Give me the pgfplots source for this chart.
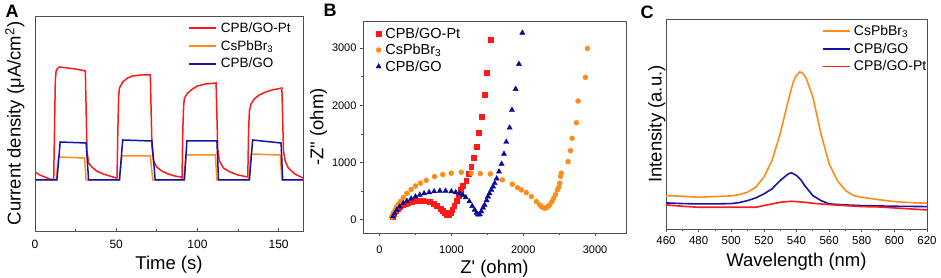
\documentclass[border=0pt]{standalone}
\usepackage{fontspec}
\setmainfont{Liberation Sans}
\usepackage{pgfplots}
\pgfplotsset{compat=1.18}
\definecolor{cred}{HTML}{FF1A1A}
\definecolor{corange}{HTML}{FF8C1A}
\definecolor{cblue}{HTML}{1414A8}
\definecolor{cnavy}{HTML}{0A0A96}
\definecolor{axgray}{HTML}{505050}
\pgfplotsset{
  myaxis/.style={
    scale only axis,
    axis line style={axgray, line width=0.9pt},
    every tick/.style={axgray, line width=0.7pt},
    /pgf/number format/assume math mode=true,
    tick label style={font=\fontsize{12}{14}\selectfont},
    label style={font=\fontsize{18.5}{21}\selectfont},
    legend cell align=left,
  },
  linelegend/.style={legend image code/.code={\draw[##1, line width=1.6pt] (0pt,0pt) -- (27pt,0pt);}},
  marklegend/.style={legend image code/.code={\draw[mark repeat=2, mark phase=2, ##1] plot coordinates {(0pt,0pt)(6pt,0pt)(18pt,0pt)};}},
}
\begin{document}
\begin{tikzpicture}
\path[use as bounding box] (0pt,0pt) rectangle (941pt,278pt);
% ---------------- A
\begin{axis}[myaxis, linelegend,
  at={(35pt,47pt)}, anchor=south west, width=268pt, height=215pt,
  xmin=0, xmax=165, ymin=0, ymax=215,
  xtick={0,50,100,150}, minor xtick={25,75,125},
  ytick=\empty, tick pos=left, tick align=inside,
  major tick length=3pt, minor tick length=2pt,
  xticklabel style={yshift=-6pt},
  xlabel={Time (s)}, ylabel={Current density (μA/cm\textsuperscript{2})},
  xlabel style={yshift=-0.5pt},
  ylabel style={yshift=7pt},
  legend style={at={(0.571,0.975)}, anchor=north west, draw=none, fill=none,
    inner sep=0pt, nodes={inner sep=1pt}, column sep=3pt,
    font=\fontsize{13.5}{15}\selectfont, row sep=4.5pt},
]
\addplot[cred, line width=1.5pt] coordinates {
(0,59)(3,56)(6,54)(9,52)(11,51)(11.5,51)(12,100)(12.5,150)(13,160)(14,163)(15,164)(20,163)(25,162)(31,160)
(31.5,120)(32,80)(33,68)(35,64)(38,60)(42,57)(46,55)(50,53)(50.5,53)(51,100)(51.5,135)(52,143)(54,149)(57,153)(60,155)(65,156)(71,156)
(71.5,120)(72,85)(73,70)(75,64)(78,60)(82,57)(86,55)(90,54)(90.5,53)(91,100)(91.5,125)(92,133)(94,138)(97,142)(100,145)(105,147)(111.5,148)
(112,115)(112.5,82)(113.5,70)(116,63)(120,59)(125,56)(131,54)(131.5,100)(132,120)(133,127)(135,132)(138,136)(142,139)(146,141)(152,143)
(152.5,110)(153,80)(154,70)(156,63)(160,57)(165,53)};
\addlegendentry{CPB/GO-Pt}
\addplot[corange, line width=1.5pt] coordinates {
(0,51)(13,51)(14.5,74)(30.5,73)(31.5,51)(52,51)(53.5,75)(71,75)(72.5,51)(91.5,51)(93,76)(111,76)(112,51)(131.5,51)(133,77)(151,76)(152,51)(165,51)};
\addlegendentry{CsPbBr\textsubscript{3}}
\addplot[cblue, line width=1.5pt] coordinates {
(0,51)(13.5,51)(15.5,89)(31.5,88)(33,51)(52,51)(54,91)(72,90)(74,51)(92,51)(93.5,90)(112,90)(113,51)(132,51)(134,91)(151.5,88)(152.5,51)(165,51)};
\addlegendentry{CPB/GO}
\end{axis}
\node[font=\bfseries\fontsize{18}{20}\selectfont] at (12pt,267pt) {A};
% ---------------- B
\begin{axis}[myaxis, marklegend,
  at={(363pt,45pt)}, anchor=south west, width=263pt, height=212pt,
  xmin=-230, xmax=3430, ymin=-230, ymax=3470,
  xtick={0,1000,2000,3000}, ytick={0,1000,2000,3000},
  minor xtick={500,1500,2500}, minor ytick={500,1500,2500},
  tick pos=left, tick align=outside,
  major tick length=3pt, minor tick length=2pt,
  scaled ticks=false,
  xticklabel style={/pgf/number format/1000 sep={}, yshift=-6pt},
  yticklabel style={/pgf/number format/1000 sep={}},
  tick label style={font=\fontsize{11}{13}\selectfont},
  xlabel={Z\textquotesingle\ (ohm)}, ylabel={-Z\textquotedbl\ (ohm)},
  xlabel style={yshift=0pt},
  ylabel style={yshift=-2pt},
  legend style={at={(0.049,0.975)}, anchor=north west, draw=none, fill=none,
    inner sep=0pt, nodes={inner sep=1pt}, column sep=3pt,
    font=\fontsize{14.5}{16}\selectfont, row sep=2.5pt},
]
\addplot[only marks, mark=square*, mark size=2.4pt, color=cred] coordinates {
(180,60)(200,110)(220,150)(250,190)(280,225)(320,260)(360,285)(400,305)(450,320)(500,330)(550,335)(600,333)(650,325)(700,310)(750,285)(800,250)(850,200)(880,160)(910,120)(930,95)(950,85)(970,95)(990,130)(1010,180)(1040,250)(1070,330)(1100,420)(1130,520)(1160,600)(1207,679)(1240,800)(1277,929)(1309,1085)(1347,1277)(1383,1521)(1420,1806)(1458,2183)(1486,2573)(1546,3148)};
\addlegendentry{CPB/GO-Pt}
\addplot[only marks, mark=*, mark size=2.5pt, color=corange] coordinates {
(170,50)(185,90)(200,130)(215,170)(235,220)(260,270)(290,320)(330,390)(380,460)(440,530)(500,590)(570,640)(650,690)(766,755)(880,790)(998,813)(1138,831)(1277,813)(1402,807)(1542,801)(1709,697)(1848,622)(1920,560)(1973,523)(2043,476)(2113,406)(2183,319)(2230,260)(2252,232)(2270,215)(2298,203)(2320,210)(2345,235)(2368,261)(2400,320)(2423,377)(2450,440)(2475,523)(2495,570)(2507,639)(2520,760)(2530,813)(2623,1016)(2657,1207)(2680,1422)(2740,1695)(2763,2073)(2865,2486)(2893,2991)};
\addlegendentry{CsPbBr\textsubscript{3}}
\addplot[only marks, mark=triangle*, mark size=3pt, color=cnavy] coordinates {
(186,58)(210,110)(240,170)(280,230)(330,290)(380,330)(440,370)(500,405)(560,435)(620,460)(690,480)(760,495)(840,505)(920,505)(1000,495)(1060,480)(1114,460)(1160,430)(1200,390)(1250,320)(1290,240)(1323,174)(1350,120)(1370,90)(1395,95)(1416,145)(1440,210)(1462,261)(1490,340)(1509,406)(1530,460)(1555,523)(1580,580)(1602,639)(1630,720)(1662,841)(1699,976)(1732,1150)(1764,1359)(1811,1608)(1843,1916)(1894,2282)(1940,2718)(1987,3263)};
\addlegendentry{CPB/GO}
\end{axis}
\node[font=\bfseries\fontsize{18}{20}\selectfont] at (330pt,268pt) {B};
% ---------------- C
\begin{axis}[myaxis, linelegend,
  at={(666pt,49pt)}, anchor=south west, width=261pt, height=210pt,
  xmin=460, xmax=620, ymin=0, ymax=628,
  xtick={460,480,...,620}, minor xtick={470,490,...,610},
  ytick=\empty, tick pos=left, tick align=outside,
  major tick length=3pt, minor tick length=2pt,
  tick label style={font=\fontsize{11.5}{13}\selectfont},
  xticklabel style={yshift=-1pt},
  xlabel={Wavelength (nm)}, ylabel={Intensity (a.u.)},
  xlabel style={yshift=-2pt},
  ylabel style={yshift=-6pt},
  legend style={at={(0.598,0.975)}, anchor=north west, draw=none, fill=none,
    inner sep=0pt, nodes={inner sep=1pt}, column sep=2pt,
    font=\fontsize{14}{16}\selectfont, row sep=4pt},
]
\addplot[corange, line width=1.6pt] coordinates {
(460,100)(470,98)(480,95)(490,97)(500,99)(505,103)(510,110)(515,125)(520,155)(525,205)(530,285)(535,385)(538,440)(540,460)(542,470)(544,465)(546,450)(550,395)(555,285)(560,195)(565,145)(570,115)(575,100)(580,95)(590,88)(600,82)(610,79)(620,77)};
\addlegendentry{CsPbBr\textsubscript{3}}
\addplot[cblue, line width=1.6pt] coordinates {
(460,78)(470,76)(480,75)(490,75)(500,76)(505,79)(510,85)(515,93)(520,105)(525,120)(530,145)(535,165)(537,168)(540,160)(543,145)(545,130)(550,100)(555,85)(560,75)(570,72)(580,70)(600,68)(620,67)};
\addlegendentry{CPB/GO}
\addplot[cred, line width=1.6pt] coordinates {
(460,72)(470,68)(480,65)(490,65)(500,65)(515,65)(520,70)(525,75)(530,80)(537,83)(545,80)(552,76)(560,73)(570,70)(580,67)(590,66)(600,63)(610,60)(620,57)};
\addlegendentry{CPB/GO-Pt}
\end{axis}
\node[font=\bfseries\fontsize{18}{20}\selectfont] at (647pt,266pt) {C};
\end{tikzpicture}
\end{document}
